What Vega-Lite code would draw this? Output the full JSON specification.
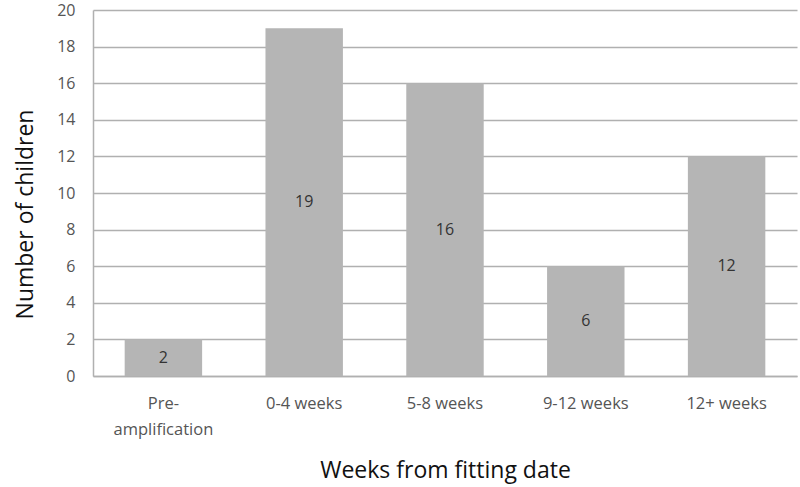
{
  "$schema": "https://vega.github.io/schema/vega-lite/v6.json",
  "autosize": "none",
  "width": 704,
  "height": 366,
  "padding": {"left": 93, "top": 10, "right": 3, "bottom": 111},
  "background": "white",
  "config": {
    "font": "Open Sans",
    "view": {"stroke": null}
  },
  "data": {
    "values": [
      {"period": "Pre-amplification", "children": 2},
      {"period": "0-4 weeks", "children": 19},
      {"period": "5-8 weeks", "children": 16},
      {"period": "9-12 weeks", "children": 6},
      {"period": "12+ weeks", "children": 12}
    ]
  },
  "encoding": {
    "x": {
      "field": "period",
      "type": "nominal",
      "sort": null,
      "scale": {"paddingInner": 0.45, "paddingOuter": 0.225},
      "axis": {
        "title": "Weeks from fitting date",
        "titleFontSize": 23,
        "titleFontWeight": "normal",
        "titleColor": "#111111",
        "titleY": 94,
        "titleBaseline": "middle",
        "labelAngle": 0,
        "labelFontSize": 16.5,
        "labelColor": "#555555",
        "labelPadding": 19,
        "labelLineHeight": 26,
        "labelExpr": "datum.value == 'Pre-amplification' ? ['Pre-', 'amplification'] : datum.value",
        "ticks": false,
        "domainColor": "#b0b0b0",
        "domainWidth": 1.5
      }
    }
  },
  "layer": [
    {
      "mark": {"type": "bar", "color": "#b5b5b5"},
      "encoding": {
        "y": {
          "field": "children",
          "type": "quantitative",
          "scale": {"domain": [0, 20]},
          "axis": {
            "title": "Number of children",
            "titleFontSize": 23,
            "titleFontWeight": "normal",
            "titleColor": "#111111",
            "titleX": -68,
            "titleY": 204,
            "titleAngle": -90,
            "titleAlign": "center",
            "titleBaseline": "middle",
            "values": [0, 2, 4, 6, 8, 10, 12, 14, 16, 18, 20],
            "labelOverlap": false,
            "labelFontSize": 16,
            "labelColor": "#555555",
            "labelPadding": 18,
            "ticks": false,
            "grid": true,
            "gridColor": "#b0b0b0",
            "gridWidth": 1.5,
            "domain": true,
            "domainColor": "#b0b0b0",
            "domainWidth": 1.5
          }
        }
      }
    },
    {
      "mark": {"type": "text", "fontSize": 16, "color": "#333333", "baseline": "middle"},
      "encoding": {
        "y": {
          "field": "children",
          "type": "quantitative",
          "scale": {"domain": [0, 40]},
          "axis": null
        },
        "text": {"field": "children", "type": "quantitative"}
      }
    }
  ],
  "resolve": {"scale": {"y": "independent"}}
}
